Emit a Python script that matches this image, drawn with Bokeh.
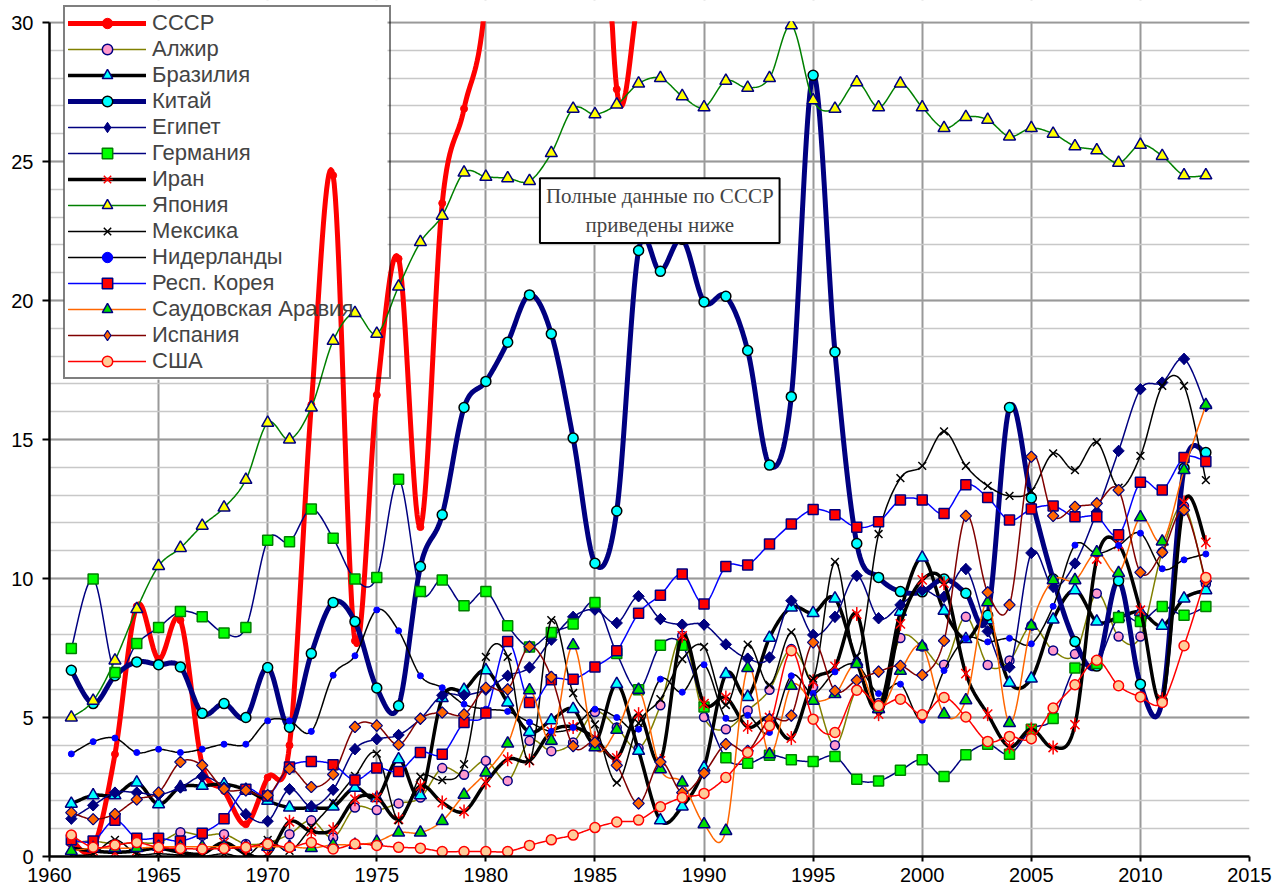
import numpy as np
from bokeh.plotting import figure
from bokeh.models import (Range1d, SingleIntervalTicker, Legend, LegendItem, Label,
                          BoxAnnotation)
from bokeh.embed import file_html
from bokeh.resources import INLINE

years = list(range(1961, 2014))
ussr_years = list(range(1961, 1992))

ussr = [0.6, 0.3, 3.68, 9.0, 7.1, 8.5, 3.3, 2.36, 1.16, 2.84,
        4.0, 16.25, 24.5, 7.76, 16.6, 21.5, 11.85, 23.5, 26.9, 31.0,
        45.0, 44.0, 34.0, 47.0, 44.0, 27.6, 31.0, 36.0, 40.0, 35.0, 39.0]
algeria = [0.5, 0.55, 0.45, 0.5, 0.5, 0.87, 0.75, 0.8, 0.45, 0.5,
           0.8, 1.3, 0.68, 1.76, 1.67, 1.91, 2.12, 3.18, 2.94, 3.44,
           2.72, 4.16, 3.79, 4.1, 5.2, 4.64, 3.89, 5.44, 7.94, 5.02,
           4.58, 5.25, 6.0, 7.46, 6.1, 4.0, 6.0, 5.52, 7.86, 7.55,
           6.9, 8.62, 6.89, 7.05, 8.3, 7.41, 7.28, 9.46, 7.91, 7.91,
           10.95, 12.6, 9.8]
brazil = [1.9, 2.2, 2.2, 2.66, 1.88, 2.5, 2.54, 2.6, 2.4, 2.0,
          1.76, 1.75, 1.8, 2.47, 2.1, 3.5, 2.2, 5.7, 6.0, 6.7,
          5.54, 4.48, 4.9, 5.3, 4.1, 6.2, 3.8, 1.3, 1.8, 3.2,
          6.56, 5.74, 7.87, 8.96, 8.76, 9.28, 7.0, 5.3, 8.8, 10.75,
          8.84, 7.82, 8.5, 6.25, 6.4, 8.52, 9.58, 8.45, 8.6, 8.8,
          8.3, 9.28, 9.58]
china = [6.7, 5.5, 6.5, 7.0, 6.9, 6.82, 5.15, 5.5, 5.0, 6.8,
         4.65, 7.3, 9.14, 8.45, 6.06, 5.42, 10.43, 12.29, 16.15, 17.09,
         18.5, 20.2, 18.8, 15.05, 10.55, 12.43, 21.8, 21.05, 22.2, 19.95,
         20.15, 18.2, 14.08, 16.54, 28.1, 18.15, 11.26, 10.04, 9.53, 9.52,
         9.98, 9.47, 8.68, 16.15, 12.9, 9.98, 7.73, 6.85, 9.92, 6.2,
         5.6, 13.97, 14.53]
egypt = [1.36, 1.84, 2.3, 2.3, 2.22, 2.48, 2.88, 2.48, 1.52, 1.27,
         2.42, 1.8, 2.4, 3.86, 4.22, 4.37, 4.95, 5.8, 5.8, 6.0,
         6.5, 6.8, 7.8, 8.62, 8.88, 8.4, 9.36, 8.54, 8.34, 8.34,
         7.63, 7.12, 7.16, 9.2, 7.97, 8.62, 10.1, 8.57, 9.05, 9.58,
         9.34, 10.34, 8.1, 6.81, 10.92, 9.7, 10.54, 12.4, 14.59, 16.81,
         17.05, 17.9, 16.2]
germany = [7.48, 9.98, 6.62, 7.66, 8.24, 8.81, 8.62, 8.04, 8.24, 11.38,
           11.32, 12.5, 11.45, 9.98, 10.04, 13.57, 9.53, 9.95, 9.02, 9.53,
           8.3, 7.54, 8.06, 8.36, 9.14, 7.3, 6.0, 7.6, 7.6, 5.38,
           3.55, 3.35, 3.64, 3.48, 3.42, 3.6, 2.78, 2.72, 3.1, 3.48,
           2.88, 3.66, 4.04, 3.68, 4.58, 4.96, 6.78, 6.94, 8.6, 8.45,
           8.99, 8.68, 8.99]
iran = [0.3, 0.2, 0.15, 0.2, 0.3, 0.15, 0.1, 0.5, 0.1, 0.05,
        1.25, 0.9, 0.98, 2.06, 2.12, 1.34, 2.54, 1.94, 1.62, 2.66,
        3.5, 3.45, 4.5, 4.66, 4.25, 3.55, 5.12, 3.44, 7.94, 5.5,
        5.72, 4.66, 5.0, 4.26, 6.3, 6.84, 8.72, 5.12, 8.37, 9.95,
        9.83, 6.58, 5.12, 3.95, 4.58, 3.92, 4.74, 10.7, 11.23, 8.86,
        5.66, 12.73, 11.3]
japan = [5.0, 5.6, 7.05, 8.9, 10.45, 11.1, 11.9, 12.55, 13.55, 15.6,
         15.0, 16.15, 18.55, 19.55, 18.8, 20.5, 22.1, 23.05, 24.6, 24.45,
         24.4, 24.3, 25.3, 26.9, 26.7, 27.05, 27.8, 28.0, 27.35, 26.95,
         27.9, 27.65, 28.0, 29.9, 27.2, 26.9, 27.85, 26.95, 27.8, 26.95,
         26.2, 26.6, 26.5, 25.9, 26.2, 26.0, 25.55, 25.4, 24.95, 25.6,
         25.2, 24.5, 24.5]
mexico = [0.05, 0.1, 0.6, 0.1, 0.1, 0.05, 0.0, 0.1, 0.0, 0.6,
          0.2, 1.05, 1.94, 2.9, 3.7, 1.3, 2.87, 2.75, 3.32, 7.18,
          7.18, 3.44, 8.5, 5.88, 4.75, 2.66, 4.8, 5.66, 7.1, 7.54,
          5.45, 7.62, 6.17, 8.06, 6.4, 10.6, 7.2, 11.6, 13.61, 14.05,
          15.29, 14.05, 13.33, 12.97, 13.15, 14.5, 13.9, 14.9, 13.27, 14.41,
          16.93, 16.93, 13.54]
netherlands = [3.69, 4.13, 4.26, 3.74, 3.86, 3.74, 3.86, 4.04, 4.04, 4.88,
               4.88, 4.5, 6.52, 7.22, 8.87, 8.12, 6.5, 6.07, 5.48, 5.3,
               5.22, 4.83, 4.5, 4.64, 5.3, 5.0, 4.58, 6.38, 5.91, 6.9,
               4.97, 5.08, 4.46, 6.5, 5.86, 6.64, 6.9, 5.86, 6.2, 4.9,
               6.69, 7.84, 7.72, 7.85, 7.65, 9.0, 11.2, 10.9, 11.19, 11.63,
               10.35, 10.67, 10.88]
korea = [0.6, 0.56, 1.3, 0.66, 0.66, 0.56, 0.84, 1.36, 2.42, 2.18,
         3.22, 3.42, 3.3, 2.75, 3.18, 3.06, 3.74, 3.68, 4.82, 5.16,
         7.73, 5.54, 6.36, 6.38, 6.82, 7.4, 8.75, 9.4, 10.16, 9.08,
         10.43, 10.49, 11.24, 11.96, 12.48, 12.29, 11.84, 12.04, 12.82, 12.82,
         12.34, 13.37, 12.91, 12.1, 12.5, 12.61, 12.22, 12.22, 11.57, 13.46,
         13.18, 14.35, 14.21]
saudi = [0.2, 0.3, 0.3, 0.3, 0.35, 0.35, 0.35, 0.35, 0.35, 0.35,
         0.35, 0.3, 0.42, 0.42, 0.53, 0.86, 0.86, 1.28, 2.22, 3.02,
         4.06, 5.98, 4.16, 7.6, 3.93, 4.56, 6.0, 3.14, 2.66, 1.16,
         0.92, 6.78, 3.68, 6.14, 5.6, 5.84, 6.92, 5.3, 6.68, 7.55,
         5.12, 5.62, 9.14, 4.8, 8.3, 9.94, 9.94, 10.94, 10.2, 12.2,
         11.33, 13.9, 16.24]
spain = [1.58, 1.34, 1.53, 2.05, 2.3, 3.4, 3.28, 2.43, 2.38, 2.2,
         3.15, 2.5, 2.95, 4.66, 4.71, 4.02, 4.96, 5.18, 5.11, 6.07,
         6.01, 7.55, 6.46, 3.97, 4.1, 3.28, 1.91, 3.4, 2.3, 3.0,
         4.04, 3.8, 4.94, 5.07, 7.7, 5.96, 6.34, 6.65, 6.86, 6.53,
         7.76, 12.25, 9.5, 9.05, 14.38, 12.25, 12.58, 12.7, 13.18, 10.22,
         10.94, 12.46, 9.9]
usa = [0.77, 0.33, 0.41, 0.5, 0.33, 0.29, 0.27, 0.29, 0.33, 0.45,
       0.33, 0.5, 0.27, 0.45, 0.4, 0.33, 0.3, 0.18, 0.18, 0.18,
       0.18, 0.4, 0.6, 0.77, 1.04, 1.24, 1.31, 1.79, 2.12, 2.27,
       2.84, 3.74, 4.7, 7.4, 4.94, 4.46, 5.98, 5.42, 5.66, 5.1,
       5.72, 5.02, 4.14, 4.32, 4.24, 5.34, 6.18, 7.06, 6.14, 5.74,
       5.54, 7.58, 10.04]

x_ticks_interval = 5
note_text = "Полные данные по СССР\nприведены ниже"
note_pos = (1987.97, 23.23)

# layout constants (pixels)
X0, X1, Y0, Y1 = 1960, 2015, 0, 30
W, H = 1284, 890
B_LEFT, B_RIGHT, B_TOP, B_BOTTOM = 49, 35, 0, 34
PLOT_H = 834                      # pixel height of the 0..30 value span
FRAME_W = W - B_LEFT - B_RIGHT
FRAME_H = H - B_TOP - B_BOTTOM    # frame reaches a little above the 30 line
LEG_X, LEG_Y, LEG_W = 14, 477, 324   # legend box, from frame bottom-left
LEG_PAD, LEG_GLYPH_W, LEG_STANDOFF = 3, 78, 6

px_x = (X1 - X0) / FRAME_W
px_y = (Y1 - Y0) / PLOT_H
Y_TOP = Y0 + FRAME_H * px_y
Y_CLIP = Y1 + 10 * px_y           # drawn curves stop here, hidden under the white strip


def smooth(xs, ys, n=20):
    """Excel-style smoothed line (Catmull-Rom Bezier through the points)."""
    xs = np.asarray(xs, float)
    ys = np.asarray(ys, float)
    m = len(xs)
    ox, oy = [xs[0]], [ys[0]]
    t = np.linspace(0, 1, n + 1)[1:]
    for i in range(m - 1):
        i0 = i - 1 if i > 0 else i
        i3 = i + 2 if i + 2 < m else i + 1
        c1x = xs[i] + (xs[i + 1] - xs[i0]) / 6.0
        c1y = ys[i] + (ys[i + 1] - ys[i0]) / 6.0
        c2x = xs[i + 1] - (xs[i3] - xs[i]) / 6.0
        c2y = ys[i + 1] - (ys[i3] - ys[i]) / 6.0
        a = (1 - t) ** 3
        b = 3 * (1 - t) ** 2 * t
        c = 3 * (1 - t) * t ** 2
        d = t ** 3
        ox.extend(a * xs[i] + b * c1x + c * c2x + d * xs[i + 1])
        oy.extend(a * ys[i] + b * c1y + c * c2y + d * ys[i + 1])
    return ox, np.minimum(np.asarray(oy), Y_CLIP)


p = figure(width=W, height=H, output_backend="svg", toolbar_location=None,
           x_range=Range1d(X0, X1), y_range=Range1d(Y0, Y_TOP),
           min_border_left=B_LEFT, min_border_right=B_RIGHT, min_border_top=B_TOP,
           min_border_bottom=B_BOTTOM)
p.background_fill_color = "white"
p.border_fill_color = "white"
p.outline_line_color = None

xt = SingleIntervalTicker(interval=x_ticks_interval, num_minor_ticks=0)
yt = SingleIntervalTicker(interval=5, num_minor_ticks=5)
p.xaxis.ticker = xt
p.yaxis.ticker = yt
p.xgrid.ticker = xt
p.ygrid.ticker = yt
p.yaxis.bounds = (Y0, Y1)
p.xgrid.grid_line_color = "#999999"
p.xgrid.grid_line_width = 2
p.ygrid.grid_line_color = "#999999"
p.ygrid.grid_line_width = 2
p.ygrid.minor_grid_line_color = "#C8C8C8"
p.ygrid.minor_grid_line_width = 1.5

for ax in (p.xaxis[0], p.yaxis[0]):
    ax.axis_line_color = "black"
    ax.axis_line_width = 2.5
    ax.major_tick_line_color = "black"
    ax.major_tick_line_width = 2
    ax.major_tick_in = 0
    ax.minor_tick_in = 0
    ax.minor_tick_out = 0
    ax.major_label_text_font = "Liberation Sans"
    ax.major_label_text_font_size = "20px"
    ax.major_label_text_color = "black"
p.xaxis.major_tick_out = 5
p.xaxis.major_label_standoff = 6
p.yaxis.major_tick_out = 7
p.yaxis.major_label_standoff = 9

# white backing of the legend: hides the grid but stays under the series lines
p.add_layout(BoxAnnotation(left=X0 + LEG_X * px_x, right=X0 + (LEG_X + LEG_W) * px_x,
                           bottom=Y0 + LEG_Y * px_y, top=Y_TOP,
                           fill_color="white", fill_alpha=1.0, line_alpha=0,
                           level="underlay"))

series = [
    ("СССР", ussr_years, ussr, "#FF0000", 5, [("circle", 7, "#FF0000", "#FF0000", 1, 0)], None),
    ("Алжир", years, algeria, "#808000", 1.5, [("circle", 9, "#FF99CC", "#000080", 1.5, 0)], None),
    ("Бразилия", years, brazil, "black", 3.5, [("triangle", 12, "#00FFFF", "#000080", 1.5, 0)], None),
    ("Китай", years, china, "#000080", 5, [("circle", 10, "#00FFFF", "black", 1.5, 0)], None),
    ("Египет", years, egypt, "#000080", 1.5, [("square", 8, "#000080", "#000080", 1, np.pi / 4)],
     ("diamond", 11, "#000080", "#000080", 1)),
    ("Германия", years, germany, "#000080", 1.5, [("square", 10, "#00FF00", "#008000", 1.5, 0)], None),
    ("Иран", years, iran, "black", 3.5, [("x", 13, "#FF0000", "#FF0000", 1.5, 0),
                                         ("dash", 14, "#FF0000", "#FF0000", 1.5, np.pi / 2)], None),
    ("Япония", years, japan, "#008000", 1.5, [("triangle", 12, "#FFFF00", "#000080", 1.5, 0)], None),
    ("Мексика", years, mexico, "black", 1.5, [("x", 11, "black", "black", 1.5, 0)], None),
    ("Нидерланды", years, netherlands, "black", 1.5, [("circle", 6, "#0000FF", "#0000FF", 1, 0)], None),
    ("Респ. Корея", years, korea, "#0000FF", 1.5, [("square", 10, "#FF0000", "#000080", 1.5, 0)], None),
    ("Саудовская Аравия", years, saudi, "#FF6600", 1.5, [("triangle", 12, "#00DD00", "#000080", 1.5, 0)], None),
    ("Испания", years, spain, "#800000", 1.5, [("square", 8, "#FF6600", "#000080", 1.2, np.pi / 4)],
     ("diamond", 11, "#FF6600", "#000080", 1.2)),
    ("США", years, usa, "#FF0000", 1.5, [("circle", 10, "#FFCC99", "#FF0000", 1.5, 0)], None),
]

items = []
for name, xs, ys, lc, lw, markers, legend_marker in series:
    sx, sy = smooth(xs, ys)
    line_r = p.line(sx, sy, line_color=lc, line_width=lw, line_join="round", line_cap="round")
    leg_rs = [line_r]
    if legend_marker is not None:
        # narrow diamond used for the legend; it sits fully under the rotated square
        mk, sz, fc, mc, mw = legend_marker
        leg_rs.append(p.scatter(xs, ys, marker=mk, size=sz, fill_color=fc, line_color=mc,
                                line_width=mw))
    for mk, sz, fc, mc, mw, ang in markers:
        r = p.scatter(xs, ys, marker=mk, size=sz, fill_color=fc, line_color=mc,
                      line_width=mw, angle=ang)
        if legend_marker is None:
            leg_rs.append(r)
    items.append(LegendItem(label=name, renderers=leg_rs))

# white strip above the 30 line: the chart area is clipped at 30
p.add_layout(BoxAnnotation(left=X0, right=X1, bottom=Y1 + 1.2 * px_y, top=Y_TOP,
                           fill_color="white", fill_alpha=1.0, line_alpha=0))

legend = Legend(items=items, location=(LEG_X, LEG_Y),
                glyph_width=LEG_GLYPH_W, glyph_height=26, label_height=26,
                label_width=LEG_W - 2 * LEG_PAD - LEG_GLYPH_W - LEG_STANDOFF,
                spacing=0, padding=LEG_PAD, margin=0, label_standoff=LEG_STANDOFF,
                label_text_font="Liberation Sans", label_text_font_size="22px",
                background_fill_alpha=0.0,
                border_line_color="black", border_line_width=2)
p.add_layout(legend, "center")

note = Label(x=note_pos[0], y=note_pos[1], text=note_text, text_font="Liberation Serif",
             text_font_size="21px", text_align="center", text_baseline="middle",
             background_fill_color="white", border_line_color="black",
             border_line_width=2, padding=6)
p.add_layout(note)

open("out.html", "w").write(file_html(p, INLINE))
